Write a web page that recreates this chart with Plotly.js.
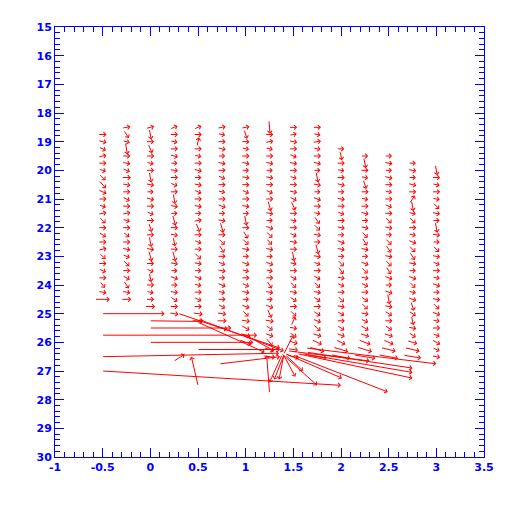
<!DOCTYPE html>
<html>
<head>
<meta charset="utf-8">
<script src="https://cdn.plot.ly/plotly-3.0.1.min.js"></script>
<style>html,body{margin:0;padding:0;background:#fff}</style>
</head>
<body>
<div id="chart" style="width:512px;height:512px"></div>
<script>
// Grid columns (x) and the first row (y) of each column; rows step 0.25
const COL_X = [-0.5,-0.25,0,0.25,0.5,0.75,1,1.25,1.5,1.75,2,2.25,2.5,2.75,3];
const COL_TOP = [18.75,18.5,18.5,18.5,18.5,18.5,18.5,18.5,18.5,18.5,19.25,19.5,19.5,19.75,20.0];
const ROW_STEP = 0.25;

// Vector components [u (x units), v (y units, + = downward)] per column, top to bottom
const col_m050 = [[0.08,0.00],[0.08,0.07],[0.07,0.10],[0.08,-0.05],[0.08,0.00],[0.07,0.07],[0.06,0.20],[0.07,0.25],[0.08,0.12],[0.08,0.00],[0.07,0.07],[0.08,-0.05],[0.06,0.20],[0.08,0.00],[0.07,0.15],[0.08,0.00],[0.08,-0.07],[0.06,0.18],[0.08,0.00],[0.07,0.10],[0.08,0.00],[0.05,0.20],[0.08,0.05],[0.15,0.00]];
const col_m025 = [[0.08,-0.05],[0.05,0.25],[0.07,0.05],[0.02,0.40],[0.08,0.00],[0.08,0.05],[0.07,0.10],[0.09,0.00],[0.08,0.05],[0.08,0.00],[0.07,0.12],[0.08,0.00],[0.08,-0.05],[0.07,0.08],[0.08,0.00],[0.06,0.15],[0.08,0.00],[0.08,0.05],[0.07,0.10],[0.06,0.20],[0.08,0.00],[0.07,0.12],[0.05,0.25],[0.08,0.05],[0.10,0.00]];
const col_000 = [[0.08,-0.07],[0.02,0.35],[0.08,0.00],[0.04,0.30],[0.08,0.00],[0.07,0.05],[0.08,0.00],[0.02,0.35],[0.08,0.05],[0.07,0.00],[0.08,0.07],[0.08,0.00],[0.07,0.10],[0.08,0.00],[0.03,0.30],[0.08,0.00],[0.02,0.35],[0.08,0.05],[0.03,0.35],[0.08,0.00],[0.07,0.10],[0.02,0.30],[0.08,0.00],[0.07,0.05],[0.08,0.00],[0.10,0.00]];
const col_025 = [[0.07,-0.10],[0.08,0.00],[0.07,0.05],[0.08,0.00],[0.08,0.07],[0.07,0.00],[0.08,0.05],[0.08,0.00],[0.07,0.10],[0.08,0.00],[0.02,0.35],[0.08,0.05],[0.07,0.00],[0.03,0.35],[0.08,0.00],[0.08,0.05],[0.02,0.30],[0.08,0.00],[0.03,0.35],[0.08,0.05],[0.07,0.00],[0.08,0.10],[0.07,0.00],[0.08,0.05],[0.07,0.15],[0.08,0.00],[0.09,0.05]];
const col_050 = [[0.07,-0.10],[0.08,0.00],[0.02,-0.30],[0.08,0.00],[0.07,0.05],[0.08,0.00],[0.08,0.07],[0.07,0.00],[0.08,0.05],[0.07,0.10],[0.08,0.00],[0.08,0.05],[0.07,0.00],[0.08,-0.05],[0.04,0.30],[0.08,0.00],[0.07,0.10],[0.08,0.00],[0.06,0.20],[0.08,0.05],[0.07,0.00],[0.08,0.10],[0.07,0.05],[0.08,0.00],[0.07,0.12],[0.08,0.00],[0.10,0.05],[0.12,0.00]];
const col_075 = [[0.08,-0.05],[0.07,0.05],[0.08,0.00],[0.08,0.07],[0.07,0.00],[0.08,0.05],[0.08,0.00],[0.07,0.10],[0.08,0.00],[0.07,0.05],[0.08,0.00],[0.08,0.10],[0.07,0.00],[0.08,0.05],[0.03,0.35],[0.08,0.00],[0.06,0.20],[0.05,0.25],[0.08,0.00],[0.07,0.10],[0.08,0.05],[0.07,0.00],[0.08,0.10],[0.07,0.05],[0.08,0.00],[0.07,0.12],[0.09,0.05],[0.10,0.00],[0.12,0.10]];
const col_100 = [[0.08,-0.05],[0.03,0.30],[0.08,0.00],[0.07,0.05],[0.08,0.00],[0.08,0.07],[0.07,0.00],[0.08,0.05],[0.08,0.00],[0.07,0.10],[0.08,0.00],[0.08,0.05],[0.07,0.00],[0.02,0.35],[0.08,0.00],[0.05,0.25],[0.06,0.20],[0.08,0.05],[0.07,0.00],[0.08,0.10],[0.07,0.05],[0.08,0.00],[0.07,0.12],[0.08,0.05],[0.07,0.00],[0.08,0.10],[0.06,0.20],[0.09,0.05],[0.08,0.15],[0.10,0.10],[0.12,0.15]];
const col_125 = [[0.01,0.45],[0.08,0.00],[0.08,-0.05],[0.07,0.05],[0.08,0.00],[0.08,0.07],[0.07,0.00],[0.08,0.05],[0.08,0.00],[0.07,0.10],[0.08,0.00],[0.03,0.35],[0.08,0.05],[0.07,0.00],[0.08,0.10],[0.06,0.20],[0.05,0.20],[0.08,0.05],[0.07,0.00],[0.08,0.10],[0.07,0.05],[0.08,0.00],[0.05,0.25],[0.08,0.05],[0.07,0.00],[0.08,0.10],[0.04,0.30],[0.09,0.05],[0.07,0.15],[0.08,0.10],[0.06,0.25],[0.10,0.10],[0.12,0.05]];
const col_150 = [[0.08,0.00],[0.07,-0.05],[0.08,0.05],[0.08,0.00],[0.07,0.10],[0.08,0.05],[0.08,0.00],[0.07,0.07],[0.08,0.00],[0.08,0.05],[0.07,0.12],[0.04,0.30],[0.08,0.00],[0.07,0.05],[0.08,0.00],[0.07,0.10],[0.08,0.05],[0.08,0.00],[0.02,0.35],[0.07,0.05],[0.08,0.00],[0.07,0.12],[0.06,0.20],[0.08,0.05],[0.07,0.15],[0.08,0.00],[0.06,0.20],[0.04,-0.30],[0.08,0.05],[0.07,0.15],[0.09,0.10],[0.10,0.05],[0.12,0.10]];
const col_175 = [[0.08,0.00],[0.07,0.05],[0.08,-0.05],[0.07,0.05],[0.08,0.00],[0.08,0.07],[0.07,0.00],[0.02,0.35],[0.08,0.05],[0.07,0.00],[0.08,0.10],[0.08,0.00],[0.07,0.05],[0.05,0.25],[0.06,0.20],[0.08,0.05],[0.07,0.00],[0.03,0.35],[0.08,0.05],[0.07,0.10],[0.08,0.00],[0.07,0.12],[0.06,0.20],[0.08,0.05],[0.07,0.15],[0.08,0.00],[0.07,0.15],[0.08,0.10],[0.07,0.20],[0.09,0.10],[0.10,0.15],[0.15,0.15],[0.20,0.10]];
const col_200 = [[0.07,0.00],[0.02,0.30],[0.08,0.00],[0.07,0.05],[0.08,0.00],[0.08,0.07],[0.07,0.00],[0.08,0.05],[0.08,0.00],[0.07,0.10],[0.08,0.00],[0.08,0.05],[0.07,0.00],[0.08,0.10],[0.08,0.05],[0.07,0.00],[0.06,0.20],[0.05,0.25],[0.08,0.05],[0.07,0.10],[0.08,0.00],[0.06,0.20],[0.08,0.05],[0.07,0.12],[0.08,0.00],[0.07,0.15],[0.08,0.10],[0.09,0.15],[0.15,0.15],[0.20,0.12]];
const col_225 = [[0.07,0.00],[0.02,0.35],[0.08,0.00],[0.07,0.05],[0.03,0.30],[0.08,0.00],[0.07,0.05],[0.08,0.00],[0.08,0.07],[0.07,0.00],[0.08,0.05],[0.06,0.20],[0.05,0.25],[0.08,0.05],[0.07,0.00],[0.08,0.10],[0.06,0.20],[0.08,0.05],[0.07,0.12],[0.08,0.00],[0.07,0.15],[0.06,0.20],[0.08,0.05],[0.07,0.10],[0.08,0.15],[0.09,0.10],[0.12,0.15],[0.15,0.15],[0.22,0.12]];
const col_250 = [[0.07,0.00],[0.08,0.05],[0.07,0.00],[0.08,0.07],[0.08,0.00],[0.07,0.05],[0.08,0.00],[0.07,0.10],[0.08,0.00],[0.06,0.20],[0.08,0.05],[0.07,0.00],[0.06,0.20],[0.05,0.25],[0.08,0.05],[0.06,0.20],[0.05,0.25],[0.08,0.10],[0.07,0.00],[0.08,0.10],[0.02,0.35],[0.08,0.05],[0.07,0.15],[0.08,0.00],[0.07,0.15],[0.09,0.10],[0.10,0.15],[0.15,0.12],[0.20,0.12]];
const col_275 = [[0.07,0.00],[0.08,0.05],[0.07,0.00],[0.08,0.07],[0.08,0.00],[0.05,-0.25],[0.02,0.35],[0.07,0.05],[0.06,0.20],[0.08,0.00],[0.07,0.05],[0.08,0.10],[0.06,0.20],[0.05,0.25],[0.08,0.05],[0.07,0.00],[0.08,0.10],[0.06,0.20],[0.07,0.05],[0.08,0.10],[0.03,0.30],[0.07,0.15],[0.02,0.30],[0.08,0.05],[0.07,0.15],[0.10,0.10],[0.15,0.12],[0.18,0.10]];
const col_300 = [[0.02,0.35],[0.08,0.00],[0.07,0.05],[0.08,0.00],[0.07,0.05],[0.06,0.20],[0.08,0.05],[0.07,0.00],[0.02,0.35],[0.08,0.05],[0.07,0.00],[0.06,0.20],[0.08,0.05],[0.07,0.10],[0.08,0.00],[0.07,0.05],[0.08,0.10],[0.07,0.00],[0.08,0.05],[0.06,0.20],[0.08,0.10],[0.07,0.05],[0.08,0.00],[0.07,0.10],[0.08,0.15],[0.07,0.10],[0.08,0.05]];
const COLUMNS = [col_m050,col_m025,col_000,col_025,col_050,col_075,col_100,col_125,col_150,col_175,col_200,col_225,col_250,col_275,col_300];

// Long vectors in the lower part: tail (x0,y0) -> head (x1,y1)
const BIG_X0 = [-0.5, 0.0, 0.0,-0.5, 0.0, 0.5,-0.5,-0.5, 0.5, 0.25,1.25,0.3, 0.55,0.73,1.4, 1.4, 1.38,1.42,1.5, 1.55,1.6, 1.65,1.64,1.45,1.38,1.4, 1.42,1.4, 0.5, 1.0];
const BIG_Y0 = [25.0,25.25,25.5,25.75,26.0,26.25,26.5,27.0,27.5,26.65,27.75,25.0,25.25,26.75,26.45,26.45,26.4,26.4,26.45,26.4,26.4,26.35,26.2,26.3,26.45,26.45,26.45,26.4,25.3,25.75];
const BIG_X1 = [0.15,0.55,0.85,1.12,1.08,1.36,1.35,2.0, 0.43,0.36,1.22,1.36,1.4, 1.36,1.52,1.3, 1.75,2.01,2.49,2.75,2.75,2.75,3.0, 2.3, 1.25,1.35,1.6, 1.5, 1.2, 1.3];
const BIG_Y1 = [25.0,25.27,25.5,25.75,26.0,26.25,26.38,27.5,26.5,26.42,26.45,26.2,26.3,26.5,27.2,27.3,27.5,27.25,27.73,27.25,27.05,26.9,26.75,26.65,27.4,27.3,27.0,25.75,26.35,26.3];

// Axis ticks
const X_TICKS = [-1,-0.5,0,0.5,1,1.5,2,2.5,3,3.5];
const X_LABELS = ['-1','-0.5','0','0.5','1','1.5','2','2.5','3','3.5'];
const Y_TICKS = [15,16,17,18,19,20,21,22,23,24,25,26,27,28,29,30];

const RED = '#ff0000', BLUE = '#0000ff';
const annotations = [];
function addArrow(x0, y0, x1, y1, size) {
  annotations.push({
    x: x1, y: y1, ax: x0, ay: y0,
    xref: 'x', yref: 'y', axref: 'x', ayref: 'y',
    text: '', showarrow: true, arrowhead: 4, arrowsize: size,
    arrowwidth: 1, arrowcolor: RED, standoff: 0, startstandoff: 0,
    font: {size: 1}, borderpad: 0
  });
}
COLUMNS.forEach((col, ci) => {
  col.forEach((uv, ri) => {
    const cx = COL_X[ci], cy = COL_TOP[ci] + ri * ROW_STEP;
    addArrow(cx - uv[0] / 2, cy - uv[1] / 2, cx + uv[0] / 2, cy + uv[1] / 2, 0.9);
  });
});
BIG_X0.forEach((x0, i) => addArrow(x0, BIG_Y0[i], BIG_X1[i], BIG_Y1[i], 0.9));

const axisCommon = {
  showgrid: false, zeroline: false, showline: true, linecolor: BLUE, linewidth: 1,
  mirror: 'allticks', ticks: 'inside', tickcolor: BLUE, tickwidth: 1, ticklen: 9,
  tickfont: {family: 'DejaVu Sans', size: 11, color: BLUE, weight: 'bold'},
};
const layout = {
  width: 512, height: 512,
  margin: {l: 55, r: 28, t: 27, b: 55},
  paper_bgcolor: '#fff', plot_bgcolor: '#fff',
  showlegend: false,
  xaxis: Object.assign({}, axisCommon, {
    range: [-1, 3.5], tickmode: 'array', tickvals: X_TICKS, ticktext: X_LABELS,
    minor: {dtick: 0.1, ticks: 'inside', ticklen: 5, tickcolor: BLUE, tickwidth: 1, showgrid: false}
  }),
  yaxis: Object.assign({}, axisCommon, {
    range: [30, 15], tickmode: 'array', tickvals: Y_TICKS,
    minor: {dtick: 0.2, ticks: 'inside', ticklen: 5, tickcolor: BLUE, tickwidth: 1, showgrid: false}
  }),
  annotations: annotations
};
Plotly.newPlot('chart', [{x: [], y: [], type: 'scatter', mode: 'markers', hoverinfo: 'skip'}], layout, {staticPlot: true, displayModeBar: false});
</script>
</body>
</html>
